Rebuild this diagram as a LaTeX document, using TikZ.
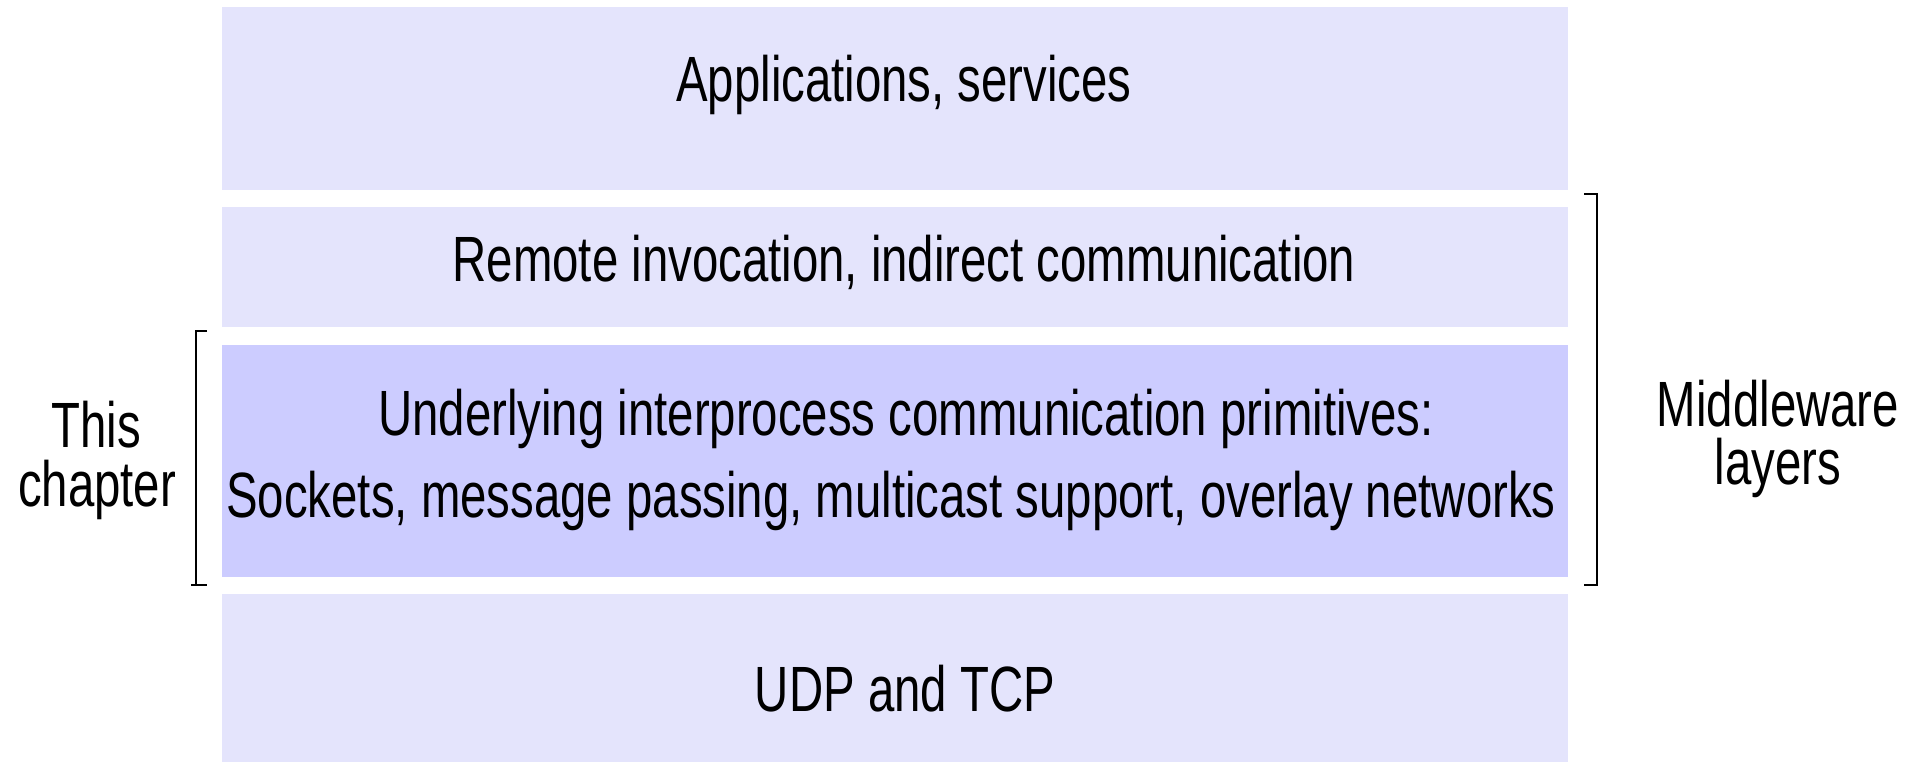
\documentclass[tikz,border=0pt]{standalone}
\usepackage{fontspec}
\setmainfont{Liberation Sans}[FakeStretch=0.74]
\definecolor{lightlayer}{HTML}{E4E4FC}
\definecolor{darklayer}{HTML}{CCCCFF}
\begin{document}
\begin{tikzpicture}[x=1pt,y=-1pt,
  layer/.style={draw=none,fill=lightlayer,minimum width=1346pt,anchor=north west,inner sep=0pt},
  lbl/.style={anchor=base,inner sep=0pt,font=\fontsize{64}{80}\selectfont},
  brack/.style={line width=2.5pt}]
\useasboundingbox (0,0) rectangle (1911,762);
% layers
\node[layer,minimum height=183pt] (app) at (222,7) {};
\node[layer,minimum height=120pt] (remote) at (222,207) {};
\node[layer,fill=darklayer,minimum height=232pt] (ipc) at (222,345) {};
\node[layer,minimum height=168pt] (udp) at (222,594) {};
% texts
\node[lbl] (tapp) at (904,102) {Applications, services};
\node[lbl] (tremote) at (904,281) {Remote invocation, indirect communication};
\node[lbl] (tipc1) at (906,435) {Underlying interprocess communication primitives:};
\node[lbl] (tipc2) at (891,517) {Sockets, message passing, multicast support, overlay networks};
\node[lbl] (tudp) at (905,711) {UDP and TCP};
\node[lbl] (tmid1) at (1778,426) {Middleware};
\node[lbl] (tmid2) at (1778,484) {layers};
\node[lbl] (tch1) at (96,447) {This};
\node[lbl] (tch2) at (97,506) {chapter};
% brackets
\coordinate (rtop) at (1597,194);
\coordinate (rbot) at (1597,585);
\draw[brack] ([xshift=-13pt]rtop) -- (rtop) -- (rbot) -- ([xshift=-13pt]rbot);
\coordinate (ltop) at (196,331);
\coordinate (lbot) at (196,585);
\draw[brack] ([xshift=11pt]ltop) -- (ltop) -- (lbot) -- ([xshift=11pt]lbot);
\draw[brack] (lbot) -- ([xshift=-5pt]lbot);
\end{tikzpicture}
\end{document}
